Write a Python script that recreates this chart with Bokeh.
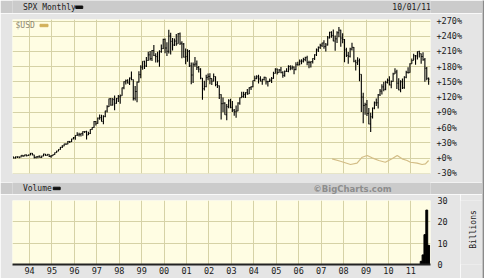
import numpy as np
from bokeh.plotting import figure
from bokeh.models import Range1d, FixedTicker, Grid
from bokeh.layouts import column, row
from bokeh.embed import file_html
from bokeh.resources import INLINE
from bokeh.core.properties import value

# ---------------- data ----------------
start_year, start_month = 1993, 4          # first monthly bar: Apr 1993
first_open = 451.67
spx_close = [
    440.19, 450.19, 450.53, 448.13, 463.56, 458.93, 467.83, 461.79, 466.45,
    481.61, 467.14, 445.77, 450.91, 456.50, 444.27, 458.26, 475.49, 462.69, 472.35, 453.69, 459.27,
    470.42, 487.39, 500.71, 514.71, 533.40, 544.75, 562.06, 561.88, 584.41, 581.50, 605.37, 615.93,
    636.02, 640.43, 645.50, 654.17, 669.12, 670.63, 639.95, 651.99, 687.33, 705.27, 757.02, 740.74,
    786.16, 790.82, 757.12, 801.34, 848.28, 885.14, 954.29, 899.47, 947.28, 914.62, 955.40, 970.43,
    980.28, 1049.34, 1101.75, 1111.75, 1090.82, 1133.84, 1120.67, 957.28, 1017.01, 1098.67, 1163.63, 1229.23,
    1279.64, 1238.33, 1286.37, 1335.18, 1301.84, 1372.71, 1328.72, 1320.41, 1282.71, 1362.93, 1388.91, 1469.25,
    1394.46, 1366.42, 1498.58, 1452.43, 1420.60, 1454.60, 1430.83, 1517.68, 1436.51, 1429.40, 1315.23, 1320.28,
    1366.01, 1239.94, 1160.33, 1249.46, 1255.82, 1224.42, 1211.23, 1133.58, 1040.94, 1059.78, 1139.45, 1148.08,
    1130.20, 1106.73, 1147.39, 1076.92, 1067.14, 989.82, 911.62, 916.07, 815.28, 885.76, 936.31, 879.82,
    855.70, 841.15, 848.18, 916.92, 963.59, 974.50, 990.31, 1008.01, 995.97, 1050.71, 1058.20, 1111.92,
    1131.13, 1144.94, 1126.21, 1107.30, 1120.68, 1140.84, 1101.72, 1104.24, 1114.58, 1130.20, 1173.82, 1211.92,
    1181.27, 1203.60, 1180.59, 1156.85, 1191.50, 1191.33, 1234.18, 1220.33, 1228.81, 1207.01, 1249.48, 1248.29,
    1280.08, 1280.66, 1294.83, 1310.61, 1270.09, 1270.20, 1276.66, 1303.82, 1335.85, 1377.94, 1400.63, 1418.30,
    1438.24, 1406.82, 1420.86, 1482.37, 1530.62, 1503.35, 1455.27, 1473.99, 1526.75, 1549.38, 1481.14, 1468.36,
    1378.55, 1330.63, 1322.70, 1385.59, 1400.38, 1280.00, 1267.38, 1282.83, 1166.36, 968.75, 896.24, 903.25,
    825.88, 735.09, 797.87, 872.81, 919.14, 919.32, 987.48, 1020.62, 1057.08, 1036.19, 1095.63, 1115.10,
    1073.87, 1104.49, 1169.43, 1186.69, 1089.41, 1030.71, 1101.60, 1049.33, 1141.20, 1183.26, 1180.55, 1257.64,
    1286.12, 1327.22, 1325.83, 1363.61, 1345.20, 1320.64, 1292.28, 1218.89, 1131.42, 1123.95,
]
spx_high = [
    448, 453, 454, 451, 464, 464, 470, 469, 471,
    483, 483, 469, 453, 458, 463, 461, 477, 476, 474, 473, 466,
    471, 489, 504, 516, 535, 552, 564, 566, 587, 588, 608, 622,
    637, 664, 660, 656, 673, 673, 676, 669, 690, 708, 762, 761,
    791, 817, 815, 812, 851, 898, 957, 961, 961, 983, 960, 986,
    992, 1051, 1106, 1122, 1123, 1139, 1190, 1121, 1066, 1104, 1193, 1244,
    1280, 1283, 1316, 1362, 1368, 1377, 1421, 1350, 1362, 1375, 1424, 1474,
    1478, 1445, 1553, 1528, 1482, 1478, 1517, 1525, 1530, 1454, 1438, 1390,
    1384, 1377, 1268, 1269, 1316, 1287, 1239, 1220, 1134, 1110, 1163, 1173,
    1176, 1131, 1173, 1147, 1107, 1070, 994, 965, 925, 908, 951, 954,
    935, 865, 895, 924, 966, 1015, 1016, 1011, 1040, 1054, 1063, 1112,
    1155, 1159, 1163, 1150, 1128, 1146, 1141, 1110, 1131, 1143, 1188, 1218,
    1217, 1212, 1229, 1192, 1199, 1219, 1246, 1246, 1243, 1234, 1271, 1276,
    1295, 1297, 1310, 1319, 1327, 1284, 1280, 1306, 1340, 1390, 1407, 1432,
    1441, 1462, 1438, 1499, 1535, 1540, 1556, 1504, 1539, 1576, 1553, 1523,
    1472, 1396, 1359, 1397, 1441, 1404, 1292, 1314, 1304, 1167, 1007, 919,
    944, 875, 832, 878, 930, 957, 996, 1039, 1080, 1101, 1111, 1130,
    1150, 1113, 1181, 1220, 1206, 1132, 1115, 1130, 1149, 1197, 1228, 1263,
    1303, 1345, 1333, 1365, 1371, 1346, 1357, 1308, 1230, 1139,
]
spx_low = [
    437, 437, 441, 439, 446, 449, 456, 454, 461,
    464, 464, 437, 435, 439, 442, 443, 456, 460, 460, 449, 443,
    457, 468, 485, 500, 511, 528, 543, 553, 560, 571, 579, 602,
    598, 633, 626, 627, 634, 657, 601, 639, 649, 686, 703, 723,
    737, 773, 756, 733, 793, 836, 882, 893, 896, 855, 911, 926,
    912, 980, 1037, 1077, 1086, 1074, 1114, 939, 940, 923, 1096, 1133,
    1205, 1213, 1229, 1283, 1287, 1281, 1325, 1268, 1268, 1233, 1354, 1387,
    1350, 1325, 1346, 1339, 1373, 1413, 1415, 1431, 1420, 1306, 1313, 1254,
    1275, 1229, 1081, 1091, 1232, 1204, 1183, 1124, 945, 1026, 1054, 1114,
    1081, 1074, 1106, 1063, 1048, 953, 775, 838, 815, 768, 872, 872,
    840, 807, 789, 847, 902, 963, 962, 960, 990, 996, 1031, 1054,
    1106, 1124, 1087, 1107, 1076, 1113, 1079, 1060, 1099, 1090, 1127, 1173,
    1164, 1180, 1176, 1137, 1146, 1188, 1184, 1202, 1205, 1168, 1202, 1243,
    1245, 1253, 1268, 1280, 1245, 1219, 1225, 1261, 1290, 1326, 1360, 1385,
    1403, 1389, 1364, 1416, 1476, 1484, 1454, 1371, 1439, 1489, 1406, 1435,
    1270, 1317, 1257, 1313, 1373, 1272, 1200, 1248, 1107, 840, 741, 816,
    805, 734, 667, 784, 864, 892, 869, 979, 992, 1020, 1029, 1086,
    1071, 1045, 1101, 1170, 1040, 1029, 1011, 1040, 1042, 1132, 1174, 1181,
    1257, 1290, 1249, 1294, 1312, 1258, 1283, 1101, 1114, 1075,
]

# US dollar index comparison line (percent)
usd_year = [2007.49, 2007.86, 2008.31, 2008.60, 2008.83, 2009.05, 2009.27, 2009.57, 2009.86,
            2010.16, 2010.39, 2010.61, 2010.83, 2010.98, 2011.28, 2011.50, 2011.65, 2011.79]
usd_pct = [-1.6, -6.3, -12.8, -10.2, 1.6, 5.0, 0.4, -4.9, -8.3,
           -1.6, 5.0, -1.6, -4.9, -8.3, -10.2, -12.8, -11.4, -4.9]

# Volume (billions), monthly
vol_month = ["2011-06", "2011-07", "2011-08", "2011-09", "2011-10"]
vol_billions = [1.5, 4.5, 14.0, 25.5, 9.0]

year_ticks = list(range(1994, 2012))
year_labels = ["94", "95", "96", "97", "98", "99", "00", "01", "02", "03",
               "04", "05", "06", "07", "08", "09", "10", "11"]
pct_ticks = [-30, 0, 30, 60, 90, 120, 150, 180, 210, 240, 270]
pct_labels = ["-30%", "+0%", "+30%", "+60%", "+90%", "+120%", "+150%",
              "+180%", "+210%", "+240%", "+270%"]
vol_ticks = [0, 10, 20, 30]
vol_labels = ["0", "10", "20", "30"]

# ---------------- styling ----------------
BAND = "#cbcbcb"
BODY = "#e5e5e5"
PLOT_BG = "#fffde3"
GRID = "#d6d2a6"
USD_COLOR = "#d3bd86"
MONO = "DejaVu Sans Mono"
FS = "8px"
W = 482
X0, X1 = 1993.24, 2011.875
PCT0, PCT1 = -30.5, 273.0

# ---------------- derived ----------------
n = len(spx_close)
t = np.array([start_year + (start_month - 1 + i + 0.5) / 12.0 for i in range(n)])
base = spx_close[0]
c = np.array(spx_close)
o = np.array([first_open] + spx_close[:-1])
pc = (c / base - 1) * 100
po = (o / base - 1) * 100
ph = (np.array(spx_high) / base - 1) * 100
pl = (np.array(spx_low) / base - 1) * 100
tick_w = 0.4 / 12.0

vt = np.array([int(s[:4]) + (int(s[5:]) - 1 + 0.5) / 12.0 for s in vol_month])


def band(h, fill=BAND, w=W):
    b = figure(width=w, height=h, x_range=Range1d(0, w), y_range=Range1d(0, h),
               toolbar_location=None, output_backend="svg", min_border=0,
               x_axis_location=None, y_axis_location=None)
    b.grid.visible = False
    b.outline_line_color = None
    b.background_fill_color = fill
    b.border_fill_color = fill
    return b


# header band
hdr = band(13)
hdr.text(x=[12], y=[6.3], text=["SPX Monthly"], text_font=value(MONO), text_font_size=FS,
         text_color="#1a1a1a", text_baseline="middle", text_align="left")
hdr.quad(left=[73], right=[81], bottom=[5.0], top=[7.5], color="#111111")
hdr.text(x=[438], y=[5.8], text=["10/01/11"], text_font=value(MONO), text_font_size=FS,
         text_color="#1a1a1a", text_baseline="middle", text_align="left")

# main price panel
p = figure(width=W, height=169, x_range=Range1d(X0, X1), y_range=Range1d(PCT0, PCT1),
           x_axis_location=None, y_axis_location="right", toolbar_location=None,
           output_backend="svg", min_border_left=12, min_border_right=52,
           min_border_top=6, min_border_bottom=9)
p.background_fill_color = PLOT_BG
p.border_fill_color = BODY
p.outline_line_color = None
p.yaxis.ticker = FixedTicker(ticks=pct_ticks)
p.yaxis.major_label_overrides = {k: v for k, v in zip(pct_ticks, pct_labels)}
p.yaxis.axis_line_color = None
p.yaxis.major_tick_line_color = None
p.yaxis.minor_tick_line_color = None
p.yaxis.major_tick_out = 0
p.yaxis.major_tick_in = 0
p.yaxis.major_label_standoff = 6
p.yaxis.major_label_text_font = MONO
p.yaxis.major_label_text_font_size = "8.5px"
p.yaxis.major_label_text_color = "#1a1a1a"
p.ygrid.grid_line_color = GRID
p.add_layout(Grid(dimension=0, ticker=FixedTicker(ticks=year_ticks), grid_line_color=GRID))

p.line(usd_year, usd_pct, line_color=USD_COLOR, line_width=1.2)
p.segment(x0=t, y0=pl, x1=t, y1=ph, line_color="black", line_width=1.1)
p.segment(x0=t - tick_w, y0=po, x1=t, y1=po, line_color="black", line_width=1)
p.segment(x0=t, y0=pc, x1=t + tick_w, y1=pc, line_color="black", line_width=1)

pxx = (X1 - X0) / 418.0
pxy = (PCT1 - PCT0) / 154.0
p.text(x=[X0 + 3 * pxx], y=[PCT1 - 6 * pxy], text=["$USD"], text_font=value(MONO),
       text_font_size=FS, text_color="#8e8772", text_baseline="middle", text_align="left")
p.quad(left=[X0 + 27.5 * pxx], right=[X0 + 35.5 * pxx],
       bottom=[PCT1 - 7.2 * pxy], top=[PCT1 - 4.8 * pxy], color="#d2b05a")

# middle band
mid = band(12)
mid.text(x=[12], y=[6.0], text=["Volume"], text_font=value(MONO), text_font_size=FS,
         text_color="#1a1a1a", text_baseline="middle", text_align="left")
mid.quad(left=[47], right=[55], bottom=[4.8], top=[7.3], color="#111111")
mid.text(x=[392], y=[6.0], text=["\u00a9BigCharts.com"], text_font=value("DejaVu Sans"),
         text_font_size="8.5px", text_font_style="bold", text_color="#8d8d8d",
         text_baseline="middle", text_align="center")

# volume panel (frame 12..430, tick labels in the right border)
VW = 460
v = figure(width=VW, height=84, x_range=Range1d(X0, X1), y_range=Range1d(0, 30),
           x_axis_location="below", y_axis_location="right", toolbar_location=None,
           output_backend="svg", min_border_left=12, min_border_right=30,
           min_border_top=6, min_border_bottom=14)
v.background_fill_color = PLOT_BG
v.border_fill_color = BODY
v.outline_line_color = None
v.xaxis.ticker = FixedTicker(ticks=year_ticks)
v.xaxis.major_label_overrides = {k: s for k, s in zip(year_ticks, year_labels)}
v.xaxis.axis_line_color = "#222222"
v.xaxis.axis_line_width = 2
v.xaxis.major_tick_line_color = None
v.xaxis.minor_tick_line_color = None
v.xaxis.major_tick_out = 0
v.xaxis.major_tick_in = 0
v.xaxis.major_label_standoff = 2
v.xaxis.major_label_text_font = MONO
v.xaxis.major_label_text_font_size = "8.5px"
v.xaxis.major_label_text_color = "#1a1a1a"
v.yaxis.ticker = FixedTicker(ticks=vol_ticks)
v.yaxis.major_label_overrides = {k: s for k, s in zip(vol_ticks, vol_labels)}
v.yaxis.axis_line_color = None
v.yaxis.major_tick_line_color = None
v.yaxis.minor_tick_line_color = None
v.yaxis.major_tick_out = 0
v.yaxis.major_tick_in = 0
v.yaxis.major_label_standoff = 7
v.yaxis.major_label_text_font = MONO
v.yaxis.major_label_text_font_size = "8.5px"
v.yaxis.major_label_text_color = "#1a1a1a"
v.xgrid.grid_line_color = GRID
v.ygrid.grid_line_color = GRID
v.vbar(x=vt, top=vol_billions, bottom=0, width=1 / 12.0, color="black")

# "Billions" unit strip to the right of the volume axis (reads bottom to top)
ub = band(84, fill=BODY, w=W - VW)
ub.text(x=[13], y=[46], text=["Billions"], angle=[np.pi / 2], text_font=value(MONO),
        text_font_size=FS, text_color="#1a1a1a", text_baseline="middle", text_align="center")

# shadows
rs = band(278, fill="#8a8a8a", w=2)
bs = band(2, fill="#8a8a8a", w=484)

layout = column(row(column(hdr, p, mid, row(v, ub)), rs), bs)
open("out.html", "w").write(file_html(layout, INLINE))
